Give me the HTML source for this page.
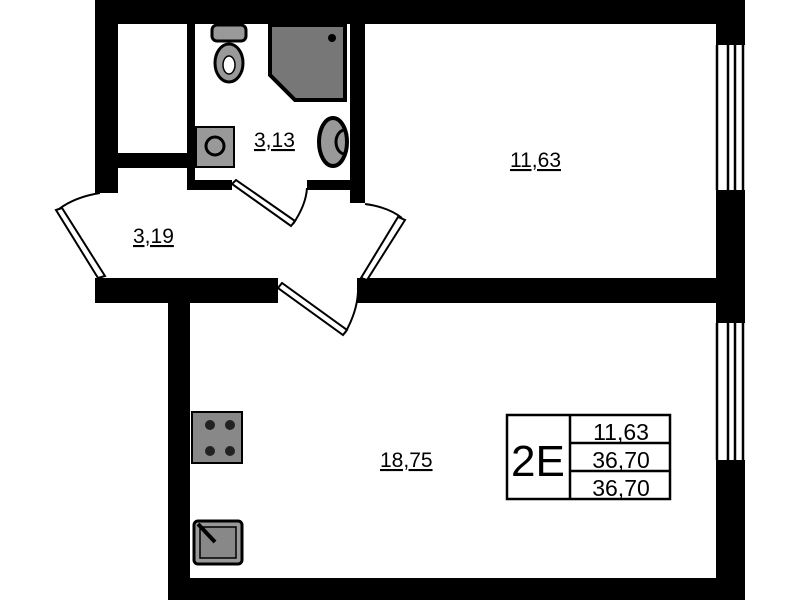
<!DOCTYPE html>
<html><head><style>html,body{margin:0;padding:0;background:#fff}svg{display:block}</style></head><body>
<svg width="799" height="600" viewBox="0 0 799 600" xmlns="http://www.w3.org/2000/svg" font-family="Liberation Sans, sans-serif">
<rect width="799" height="600" fill="#fff"/>
<g fill="#000">
<rect x="95" y="0" width="650" height="24"/>
<rect x="95" y="0" width="23" height="193"/>
<rect x="716" y="0" width="29" height="45"/>
<rect x="716" y="190" width="29" height="133"/>
<rect x="716" y="460" width="29" height="140"/>
<rect x="168" y="578" width="577" height="22"/>
<rect x="168" y="278" width="22" height="322"/>
<rect x="95" y="278" width="183" height="25"/>
<rect x="357" y="278" width="388" height="25"/>
<rect x="187" y="0" width="8" height="190"/>
<rect x="118" y="153" width="69" height="15"/>
<rect x="350" y="0" width="15" height="203"/>
<rect x="187" y="180" width="45" height="10"/>
<rect x="307" y="180" width="45" height="10"/>
</g>
<g stroke="#000" stroke-width="2.5">
<line x1="717" y1="45" x2="717" y2="190"/><line x1="728" y1="45" x2="728" y2="190"/><line x1="735" y1="45" x2="735" y2="190"/><line x1="743" y1="45" x2="743" y2="190"/>
<line x1="717" y1="323" x2="717" y2="460"/><line x1="728" y1="323" x2="728" y2="460"/><line x1="735" y1="323" x2="735" y2="460"/><line x1="743" y1="323" x2="743" y2="460"/>
</g>
<g fill="none" stroke="#000" stroke-width="2">
<polygon points="56,210 62,208 105,276 98,278" fill="#fff"/>
<path d="M59,209 Q75,197 100,193"/>
<polygon points="398,217 405,220 367,280 361,278" fill="#fff"/>
<path d="M365,204 Q388,207 402,218"/>
<polygon points="232,184 236,180 295,221 291,226" fill="#fff"/>
<path d="M293,224 Q306,205 307,188"/>
<polygon points="278,288 282,283 347,330 343,335" fill="#fff"/>
<path d="M345,333 Q357,312 358,292"/>
</g>
<rect x="212" y="25" width="34" height="16" rx="5" fill="#999" stroke="#000" stroke-width="3"/>
<ellipse cx="229" cy="63" rx="14" ry="19" fill="#999" stroke="#000" stroke-width="3"/>
<ellipse cx="229" cy="65" rx="6" ry="9" fill="#fff" stroke="#000" stroke-width="1.5"/>
<polygon points="270,25 345,25 345,100 295,100 270,75" fill="#777" stroke="#000" stroke-width="4"/>
<circle cx="332" cy="38" r="4"/>
<rect x="196" y="127" width="38" height="40" fill="#999" stroke="#000" stroke-width="2"/>
<circle cx="215" cy="146" r="9" fill="#999" stroke="#000" stroke-width="3"/>
<ellipse cx="333" cy="142" rx="14" ry="24" fill="#999" stroke="#000" stroke-width="4"/>
<path d="M345,130 A9,12 0 1,0 345,154" fill="none" stroke="#000" stroke-width="3"/>
<rect x="192" y="412" width="50" height="51" fill="#888" stroke="#000" stroke-width="2"/>
<g fill="#222"><circle cx="210" cy="425" r="5"/><circle cx="230" cy="425" r="5"/><circle cx="210" cy="451" r="5"/><circle cx="230" cy="451" r="5"/></g>
<rect x="194" y="521" width="48" height="43" rx="4" fill="#999" stroke="#000" stroke-width="3"/>
<rect x="200" y="527" width="36" height="31" fill="#888" stroke="#000" stroke-width="1.5"/>
<line x1="198" y1="524" x2="215" y2="542" stroke="#000" stroke-width="4"/>
<g font-size="21" fill="#000" text-decoration="underline">
<text x="254" y="147">3,13</text>
<text x="510" y="167">11,63</text>
<text x="133" y="243">3,19</text>
<text x="380" y="467">18,75</text>
</g>
<g fill="none" stroke="#000" stroke-width="2.5">
<rect x="507" y="415" width="163" height="84"/>
<line x1="570" y1="415" x2="570" y2="499"/>
<line x1="570" y1="443" x2="670" y2="443"/>
<line x1="570" y1="471" x2="670" y2="471"/>
</g>
<text x="511" y="476" font-size="44" fill="#000">2E</text>
<g font-size="23" fill="#000" text-anchor="middle">
<text x="621" y="440">11,63</text>
<text x="621" y="468">36,70</text>
<text x="621" y="496">36,70</text>
</g>
</svg>
</body></html>
